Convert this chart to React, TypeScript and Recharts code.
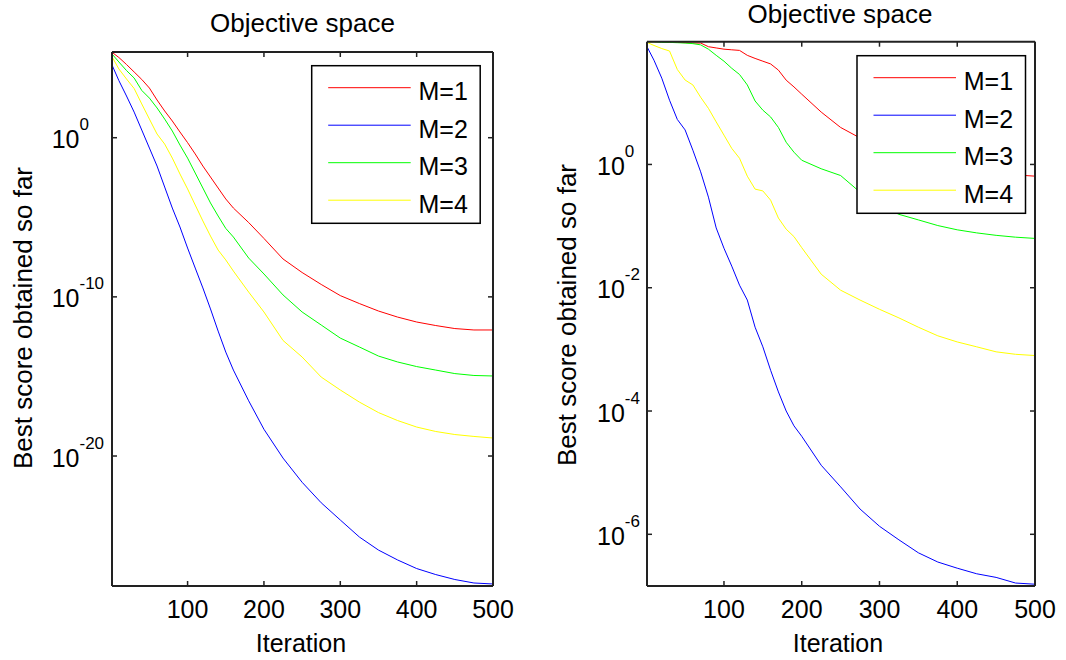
import React from "react";
import { Line, LineChart, XAxis, YAxis } from "recharts";

const FONT = '"Liberation Sans", Arial, sans-serif';
const AXIS = "#222";

const seriesNames = ["M=1", "M=2", "M=3", "M=4"];
const seriesColors = ["#ff0000", "#0000ff", "#00ff00", "#ffff00"];
const xTicks = [100, 200, 300, 400, 500];

// left panel
const leftIter = [1, 10, 20, 30, 40, 50, 60, 70, 80, 90, 100, 110, 120, 130, 140, 150, 160, 180, 200, 225, 250, 275, 300, 325, 350, 375, 400, 425, 450, 475, 500];
const leftM1 = [2.34e5, 1.1e5, 3.98e4, 1.35e4, 4.57e3, 1.32e3, 234, 47.9, 11.2, 2.29, 0.49, 0.095, 0.0166, 3.39e-3, 6.9e-4, 1.41e-4, 3.8e-5, 4.68e-6, 4.68e-7, 2.4e-8, 3.39e-9, 6.03e-10, 1.2e-10, 3.8e-11, 1.29e-11, 5.37e-12, 2.63e-12, 1.58e-12, 1.02e-12, 8.3e-13, 8.3e-13];
const leftM2 = [3.72e4, 3.89e3, 417, 40.7, 3.02, 0.224, 0.0166, 7.94e-4, 3.8e-5, 2.45e-6, 1.17e-7, 6.46e-9, 3.63e-10, 1.74e-11, 7.08e-13, 3.39e-14, 2.51e-15, 2.95e-17, 4.79e-19, 7.41e-21, 2.24e-22, 1.15e-23, 9.55e-25, 8.13e-26, 1.23e-26, 2.95e-27, 8.51e-28, 3.55e-28, 1.74e-28, 1.05e-28, 9.12e-29];
const leftM3 = [1.82e5, 5.75e4, 1.66e4, 5.62e3, 933, 309, 74, 14.8, 2.63, 0.347, 0.0525, 6.03e-3, 6.9e-4, 7.94e-5, 1.2e-5, 2.0e-6, 5.75e-7, 2.75e-8, 2.75e-9, 1.32e-10, 1.12e-11, 1.7e-12, 2.57e-13, 7.08e-14, 1.91e-14, 8.13e-15, 4.17e-15, 2.51e-15, 1.51e-15, 1.15e-15, 1.07e-15];
const leftM4 = [1.23e5, 2.09e4, 4.9e3, 1.23e3, 132, 14.8, 1.7, 0.398, 0.0525, 5.25e-3, 6.03e-4, 5.89e-5, 5.89e-6, 6.61e-7, 8.71e-8, 2.09e-8, 4.17e-9, 2.0e-10, 1.12e-11, 1.82e-13, 1.66e-14, 9.12e-16, 1.41e-16, 2.45e-17, 5.37e-18, 1.7e-18, 6.61e-19, 3.47e-19, 2.24e-19, 1.7e-19, 1.35e-19];
const leftYTicks = [1, 1e-10, 1e-20];
const leftYDomain = [6.8e-29, 2.43e5];

// right panel
const rightIter = [1, 10, 20, 30, 40, 50, 60, 70, 80, 90, 100, 110, 120, 130, 140, 150, 160, 170, 180, 190, 200, 225, 250, 275, 300, 325, 350, 375, 400, 425, 450, 475, 500];
const rightM1 = [97.7, 97.7, 97.7, 95.5, 95.5, 94.4, 93.3, 93.3, 81.3, 77.6, 74.1, 72.4, 70.8, 58.9, 52.5, 47.3, 42.7, 33.9, 23.3, 18.1, 13.8, 7.08, 3.98, 2.69, 2.14, 1.66, 1.32, 1.12, 0.955, 0.832, 0.741, 0.676, 0.646];
const rightM2 = [81.3, 49, 25.1, 11, 5.37, 3.63, 1.7, 0.759, 0.295, 0.0933, 0.0437, 0.0224, 0.011, 6.31e-3, 2.29e-3, 1.1e-3, 4.57e-4, 2.04e-4, 1.0e-4, 5.75e-5, 3.89e-5, 1.32e-5, 5.89e-6, 2.57e-6, 1.35e-6, 8.13e-7, 5.01e-7, 3.55e-7, 2.82e-7, 2.29e-7, 2.0e-7, 1.62e-7, 1.55e-7];
const rightM3 = [97.7, 97.7, 95.5, 95.5, 94.4, 93.3, 91.2, 87.1, 74.1, 58.9, 47.3, 36.3, 28.8, 19.5, 10.7, 7.59, 5.89, 3.98, 2.29, 1.58, 1.17, 0.851, 0.661, 0.355, 0.219, 0.155, 0.126, 0.102, 0.087, 0.0776, 0.0708, 0.0661, 0.0631];
const rightM4 = [95.5, 85.1, 75.9, 69.2, 34.7, 23.4, 19.5, 12.3, 8.13, 4.9, 2.99, 1.82, 1.26, 0.646, 0.398, 0.372, 0.263, 0.135, 0.0891, 0.0676, 0.0447, 0.0166, 9.12e-3, 6.31e-3, 4.47e-3, 3.24e-3, 2.29e-3, 1.66e-3, 1.32e-3, 1.1e-3, 9.12e-4, 8.32e-4, 7.94e-4];
const rightYTicks = [1, 1e-2, 1e-4, 1e-6];
const rightYDomain = [1.45e-7, 98];

const toRows = (iter: number[], cols: number[][]) =>
  iter.map((it, i) => ({ iter: it, m1: cols[0][i], m2: cols[1][i], m3: cols[2][i], m4: cols[3][i] }));

const leftData = toRows(leftIter, [leftM1, leftM2, leftM3, leftM4]);
const rightData = toRows(rightIter, [rightM1, rightM2, rightM3, rightM4]);

const CHART_W = 533;

// bottom ticks + labels, and the mirrored inward tick on the top edge
const makeXTick = (plotTop: number) => ({ x, y, payload }: any) => (
  <g>
    <line x1={x} y1={y} x2={x} y2={y - 5} stroke={AXIS} strokeWidth={1.5} />
    <line x1={x} y1={plotTop} x2={x} y2={plotTop + 5} stroke={AXIS} strokeWidth={1.5} />
    <text x={x} y={y + 32} textAnchor="middle" fontSize={25} fill="#000" fontFamily={FONT}>
      {payload.value}
    </text>
  </g>
);

// left ticks + 10^n labels, and the mirrored inward tick on the right edge
const makeYTick = (labelOffset: number, plotRight: number) => ({ x, y, payload }: any) => {
  const exp = Math.round(Math.log10(payload.value));
  return (
    <g>
      <line x1={x} y1={y} x2={x + 5} y2={y} stroke={AXIS} strokeWidth={1.5} />
      <line x1={plotRight} y1={y} x2={plotRight - 5} y2={y} stroke={AXIS} strokeWidth={1.5} />
      <text x={x - labelOffset} y={y + 10.5} fontSize={25} fill="#000" fontFamily={FONT}>
        10
        <tspan fontSize={17} dy={-18}>
          {exp}
        </tspan>
      </text>
    </g>
  );
};

type PanelProps = {
  data: any[];
  yDomain: number[];
  yTicks: number[];
  labelOffset: number;
  top: number;
  right: number;
};

function Panel({ data, yDomain, yTicks, labelOffset, top, right }: PanelProps) {
  const plotRight = CHART_W - right;
  return (
    <LineChart width={CHART_W} height={660} data={data} margin={{ top: top - 1, right: right - 1, bottom: 73, left: 0 }}>
      <XAxis
        dataKey="iter"
        type="number"
        domain={[1, 500]}
        ticks={xTicks}
        height={1}
        tickSize={0}
        tickMargin={0}
        tick={makeXTick(top)}
        axisLine={{ stroke: AXIS, strokeWidth: 2 }}
        allowDataOverflow
      />
      <XAxis
        xAxisId="top"
        orientation="top"
        type="number"
        domain={[1, 500]}
        height={1}
        tick={false}
        tickLine={false}
        axisLine={{ stroke: AXIS, strokeWidth: 2 }}
      />
      <YAxis
        type="number"
        scale="log"
        domain={yDomain}
        ticks={yTicks}
        width={112}
        tickSize={0}
        tickMargin={0}
        tick={makeYTick(labelOffset, plotRight)}
        axisLine={{ stroke: AXIS, strokeWidth: 2 }}
        allowDataOverflow
      />
      <YAxis
        yAxisId="right"
        orientation="right"
        type="number"
        scale="log"
        domain={yDomain}
        width={1}
        tick={false}
        tickLine={false}
        axisLine={{ stroke: AXIS, strokeWidth: 2 }}
      />
      {["m1", "m2", "m3", "m4"].map((key, i) => (
        <Line
          key={key}
          dataKey={key}
          name={seriesNames[i]}
          type="linear"
          stroke={seriesColors[i]}
          strokeWidth={1}
          dot={false}
          isAnimationActive={false}
        />
      ))}
    </LineChart>
  );
}

function LegendBox({ left, top }: { left: number; top: number }) {
  return (
    <g>
      <rect x={left} y={top} width={168.5} height={157.6} fill="#fff" stroke="#000" strokeWidth={1.5} />
      {seriesNames.map((name, i) => {
        const y = top + 22 + i * 37.5;
        return (
          <g key={name}>
            <line x1={left + 16.5} x2={left + 99} y1={y} y2={y} stroke={seriesColors[i]} strokeWidth={1} />
            <text x={left + 106.8} y={y + 12.3} fontSize={25} fill="#000" fontFamily={FONT}>
              {name}
            </text>
          </g>
        );
      })}
    </g>
  );
}

export default function App() {
  return (
    <div style={{ position: "absolute", left: 0, top: 0, width: 1066, height: 660, background: "#fff" }}>
      <div style={{ position: "absolute", left: 0, top: 0 }}>
        <Panel data={leftData} yDomain={leftYDomain} yTicks={leftYTicks} labelOffset={60.3} top={52} right={40} />
      </div>
      <div style={{ position: "absolute", left: 535, top: 0 }}>
        <Panel data={rightData} yDomain={rightYDomain} yTicks={rightYTicks} labelOffset={50} top={41.7} right={33} />
      </div>
      <svg width={1066} height={660} style={{ position: "absolute", left: 0, top: 0, pointerEvents: "none" }}>
        <g fontFamily={FONT} fill="#000">
          <text x={302.5} y={32} textAnchor="middle" fontSize={26}>Objective space</text>
          <text x={840} y={22.5} textAnchor="middle" fontSize={26}>Objective space</text>
          <text x={301} y={651.5} textAnchor="middle" fontSize={25}>Iteration</text>
          <text x={838} y={651.5} textAnchor="middle" fontSize={25}>Iteration</text>
          <text transform="translate(31.5,318) rotate(-90)" textAnchor="middle" fontSize={26}>
            Best score obtained so far
          </text>
          <text transform="translate(576,315) rotate(-90)" textAnchor="middle" fontSize={26}>
            Best score obtained so far
          </text>
        </g>
        <LegendBox left={311.7} top={65.7} />
        <LegendBox left={857} top={55.7} />
      </svg>
    </div>
  );
}
